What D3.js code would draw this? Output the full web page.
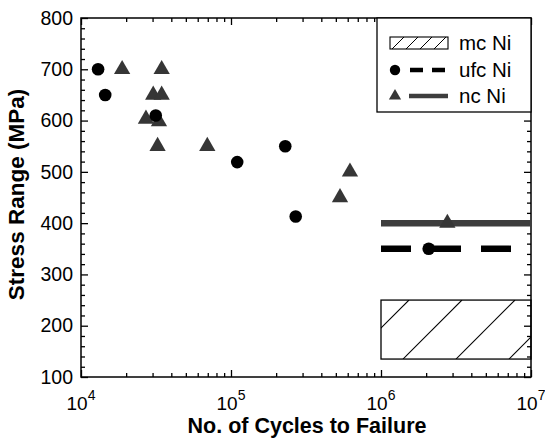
<!DOCTYPE html>
<html><head><meta charset="utf-8">
<script src="https://cdn.jsdelivr.net/npm/d3@7"></script>
<style>
body{margin:0;background:#fff}
svg{display:block}
text{font-family:"Liberation Sans",Arial,Helvetica,sans-serif;fill:#000}
</style>
</head><body>
<svg id="c" width="545" height="438"></svg>
<script>
// ---- data ----
const ufcCycles = [13000, 14500, 31500, 110000, 230000, 270000, 2080000];
const ufcStress = [700, 650, 610, 519, 550, 413, 350];
const ncCycles = [18800, 34500, 30300, 34500, 27100, 33100, 32400, 69500, 621000, 533000, 2770000];
const ncStress = [700, 700, 650, 650, 603, 598, 550, 550, 500, 450, 400];
const mcRangeCycles = [1e6, 1e7];
const mcRangeStress = [135, 250];
const ufcLineCycles = [1e6, 1e7];
const ufcLineStress = 350;
const ncLineCycles = [1e6, 1e7];
const ncLineStress = 400;
const xMajorTicks = [1e4, 1e5, 1e6, 1e7];
const xTickExponents = ["4", "5", "6", "7"];
const yTicks = [100, 200, 300, 400, 500, 600, 700, 800];
const legendLabels = ["mc Ni", "ufc Ni", "nc Ni"];
const xTitle = "No. of Cycles to Failure";
const yTitle = "Stress Range (MPa)";

// ---- layout ----
const L = 81, R = 531, T = 18, B = 377;
const svg = d3.select("#c");
const x = d3.scaleLog().domain([1e4, 1e7]).range([L, R]);
const y = d3.scaleLinear().domain([100, 800]).range([B, T]);

const xMinor = [];
for (let e = 4; e < 7; e++) for (let k = 2; k <= 9; k++) xMinor.push(k * Math.pow(10, e));
const yMinor = d3.range(100, 801, 20).filter(v => v % 100 !== 0);

function styleAxis(g) {
  g.select(".domain").remove();
  g.selectAll(".tick line").attr("stroke", "#000").attr("stroke-width", 1.3);
}

// bottom (inward ticks)
svg.append("g").attr("transform", `translate(0,${B})`)
  .call(d3.axisBottom(x).tickValues(xMajorTicks).tickSize(-7).tickFormat("")).call(styleAxis);
svg.append("g").attr("transform", `translate(0,${B})`)
  .call(d3.axisBottom(x).tickValues(xMinor).tickSize(-4).tickFormat("")).call(styleAxis);
// top
svg.append("g").attr("transform", `translate(0,${T})`)
  .call(d3.axisTop(x).tickValues(xMajorTicks).tickSize(-7).tickFormat("")).call(styleAxis);
svg.append("g").attr("transform", `translate(0,${T})`)
  .call(d3.axisTop(x).tickValues(xMinor).tickSize(-4).tickFormat("")).call(styleAxis);
// left
const yl = svg.append("g").attr("transform", `translate(${L},0)`)
  .call(d3.axisLeft(y).tickValues(yTicks).tickSize(-7).tickPadding(8).tickFormat(d3.format("d")));
styleAxis(yl);
yl.selectAll("text").attr("font-size", 19.5).attr("fill", "#000")
  .style("font-family", '"Liberation Sans",Arial,sans-serif');
svg.append("g").attr("transform", `translate(${L},0)`)
  .call(d3.axisLeft(y).tickValues(yMinor).tickSize(-4).tickFormat("")).call(styleAxis);
// right
svg.append("g").attr("transform", `translate(${R},0)`)
  .call(d3.axisRight(y).tickValues(yTicks).tickSize(-7).tickFormat("")).call(styleAxis);
svg.append("g").attr("transform", `translate(${R},0)`)
  .call(d3.axisRight(y).tickValues(yMinor).tickSize(-4).tickFormat("")).call(styleAxis);

// frame
svg.append("rect").attr("x", L).attr("y", T).attr("width", R - L).attr("height", B - T)
  .attr("fill", "none").attr("stroke", "#000").attr("stroke-width", 1.5);

// x tick labels with superscripts
const xl = svg.append("g").selectAll("text").data(xMajorTicks).join("text")
  .attr("x", d => x(d)).attr("y", 410).attr("text-anchor", "middle").attr("font-size", 19);
xl.append("tspan").text("10");
xl.append("tspan").attr("font-size", 14).attr("dy", -10).text((d, i) => xTickExponents[i]);

// titles
svg.append("text").attr("x", (L + R) / 2 + 1).attr("y", 432.5).attr("text-anchor", "middle")
  .attr("font-size", 21.5).attr("font-weight", "bold").text(xTitle);
svg.append("text").attr("transform", `translate(24,${(T + B) / 2 - 3}) rotate(-90)`)
  .attr("text-anchor", "middle").attr("font-size", 22.5).attr("font-weight", "bold").text(yTitle);

// mc Ni hatched range
const bx0 = x(mcRangeCycles[0]), bx1 = x(mcRangeCycles[1]);
const by0 = y(mcRangeStress[1]), by1 = y(mcRangeStress[0]);
svg.append("clipPath").attr("id", "hclip").append("rect")
  .attr("x", bx0).attr("y", by0).attr("width", bx1 - bx0).attr("height", by1 - by0);
const hh = by1 - by0;
const hatch = [];
for (let bx = bx0 - 31; bx < bx1 + 5; bx += 53) hatch.push(bx);
svg.append("g").attr("clip-path", "url(#hclip)").selectAll("line").data(hatch).join("line")
  .attr("x1", d => d).attr("y1", by1).attr("x2", d => d + hh).attr("y2", by0)
  .attr("stroke", "#000").attr("stroke-width", 1.1);
svg.append("rect").attr("x", bx0).attr("y", by0).attr("width", bx1 - bx0).attr("height", by1 - by0)
  .attr("fill", "none").attr("stroke", "#000").attr("stroke-width", 1.3);

// lines
svg.append("line").attr("x1", x(ncLineCycles[0])).attr("x2", x(ncLineCycles[1]))
  .attr("y1", y(ncLineStress)).attr("y2", y(ncLineStress))
  .attr("stroke", "#3d3d3d").attr("stroke-width", 6.5);
svg.append("line").attr("x1", x(ufcLineCycles[0])).attr("x2", x(ufcLineCycles[1]))
  .attr("y1", y(ufcLineStress)).attr("y2", y(ufcLineStress))
  .attr("stroke", "#000").attr("stroke-width", 6.5).attr("stroke-dasharray", "30,20");

// points
const tri = d3.symbol().type(d3.symbolTriangle).size(115);
svg.append("g").selectAll("path").data(ncCycles).join("path")
  .attr("d", tri).attr("transform", (d, i) => `translate(${x(d)},${y(ncStress[i])})`)
  .attr("fill", "#363636");
svg.append("g").selectAll("circle").data(ufcCycles).join("circle")
  .attr("cx", d => x(d)).attr("cy", (d, i) => y(ufcStress[i])).attr("r", 6.3).attr("fill", "#000");

// legend
const lg = svg.append("g");
lg.append("rect").attr("x", 377).attr("y", T).attr("width", R - 377).attr("height", 94)
  .attr("fill", "#fff").attr("stroke", "#000").attr("stroke-width", 1.3);
const rows = [43, 70, 96];
// swatch hatch
const sx0 = 390, sx1 = 448, sy0 = rows[0] - 6, sy1 = rows[0] + 6;
const sh = [];
for (let bx = sx0 + 2; bx < sx1; bx += 14) sh.push(bx);
svg.append("clipPath").attr("id", "sclip").append("rect")
  .attr("x", sx0).attr("y", sy0).attr("width", sx1 - sx0).attr("height", sy1 - sy0);
lg.append("g").attr("clip-path", "url(#sclip)").selectAll("line").data(sh).join("line")
  .attr("x1", d => d).attr("y1", sy1).attr("x2", d => d + (sy1 - sy0)).attr("y2", sy0)
  .attr("stroke", "#000").attr("stroke-width", 1);
lg.append("rect").attr("x", sx0).attr("y", sy0).attr("width", sx1 - sx0).attr("height", sy1 - sy0)
  .attr("fill", "none").attr("stroke", "#000").attr("stroke-width", 1.1);
lg.append("circle").attr("cx", 395).attr("cy", rows[1]).attr("r", 5.2).attr("fill", "#000");
lg.append("line").attr("x1", 410).attr("x2", 448).attr("y1", rows[1]).attr("y2", rows[1])
  .attr("stroke", "#000").attr("stroke-width", 4.5).attr("stroke-dasharray", "13,9");
lg.append("path").attr("d", d3.symbol().type(d3.symbolTriangle).size(65))
  .attr("transform", `translate(395,${rows[2]})`).attr("fill", "#363636");
lg.append("line").attr("x1", 409).attr("x2", 448).attr("y1", rows[2]).attr("y2", rows[2])
  .attr("stroke", "#3d3d3d").attr("stroke-width", 4.5);
lg.selectAll("text.lab").data(legendLabels).join("text").attr("class", "lab")
  .attr("x", 459).attr("y", (d, i) => rows[i]).attr("dy", "0.36em")
  .attr("font-size", 20.5).text(d => d);
</script>
</body></html>
